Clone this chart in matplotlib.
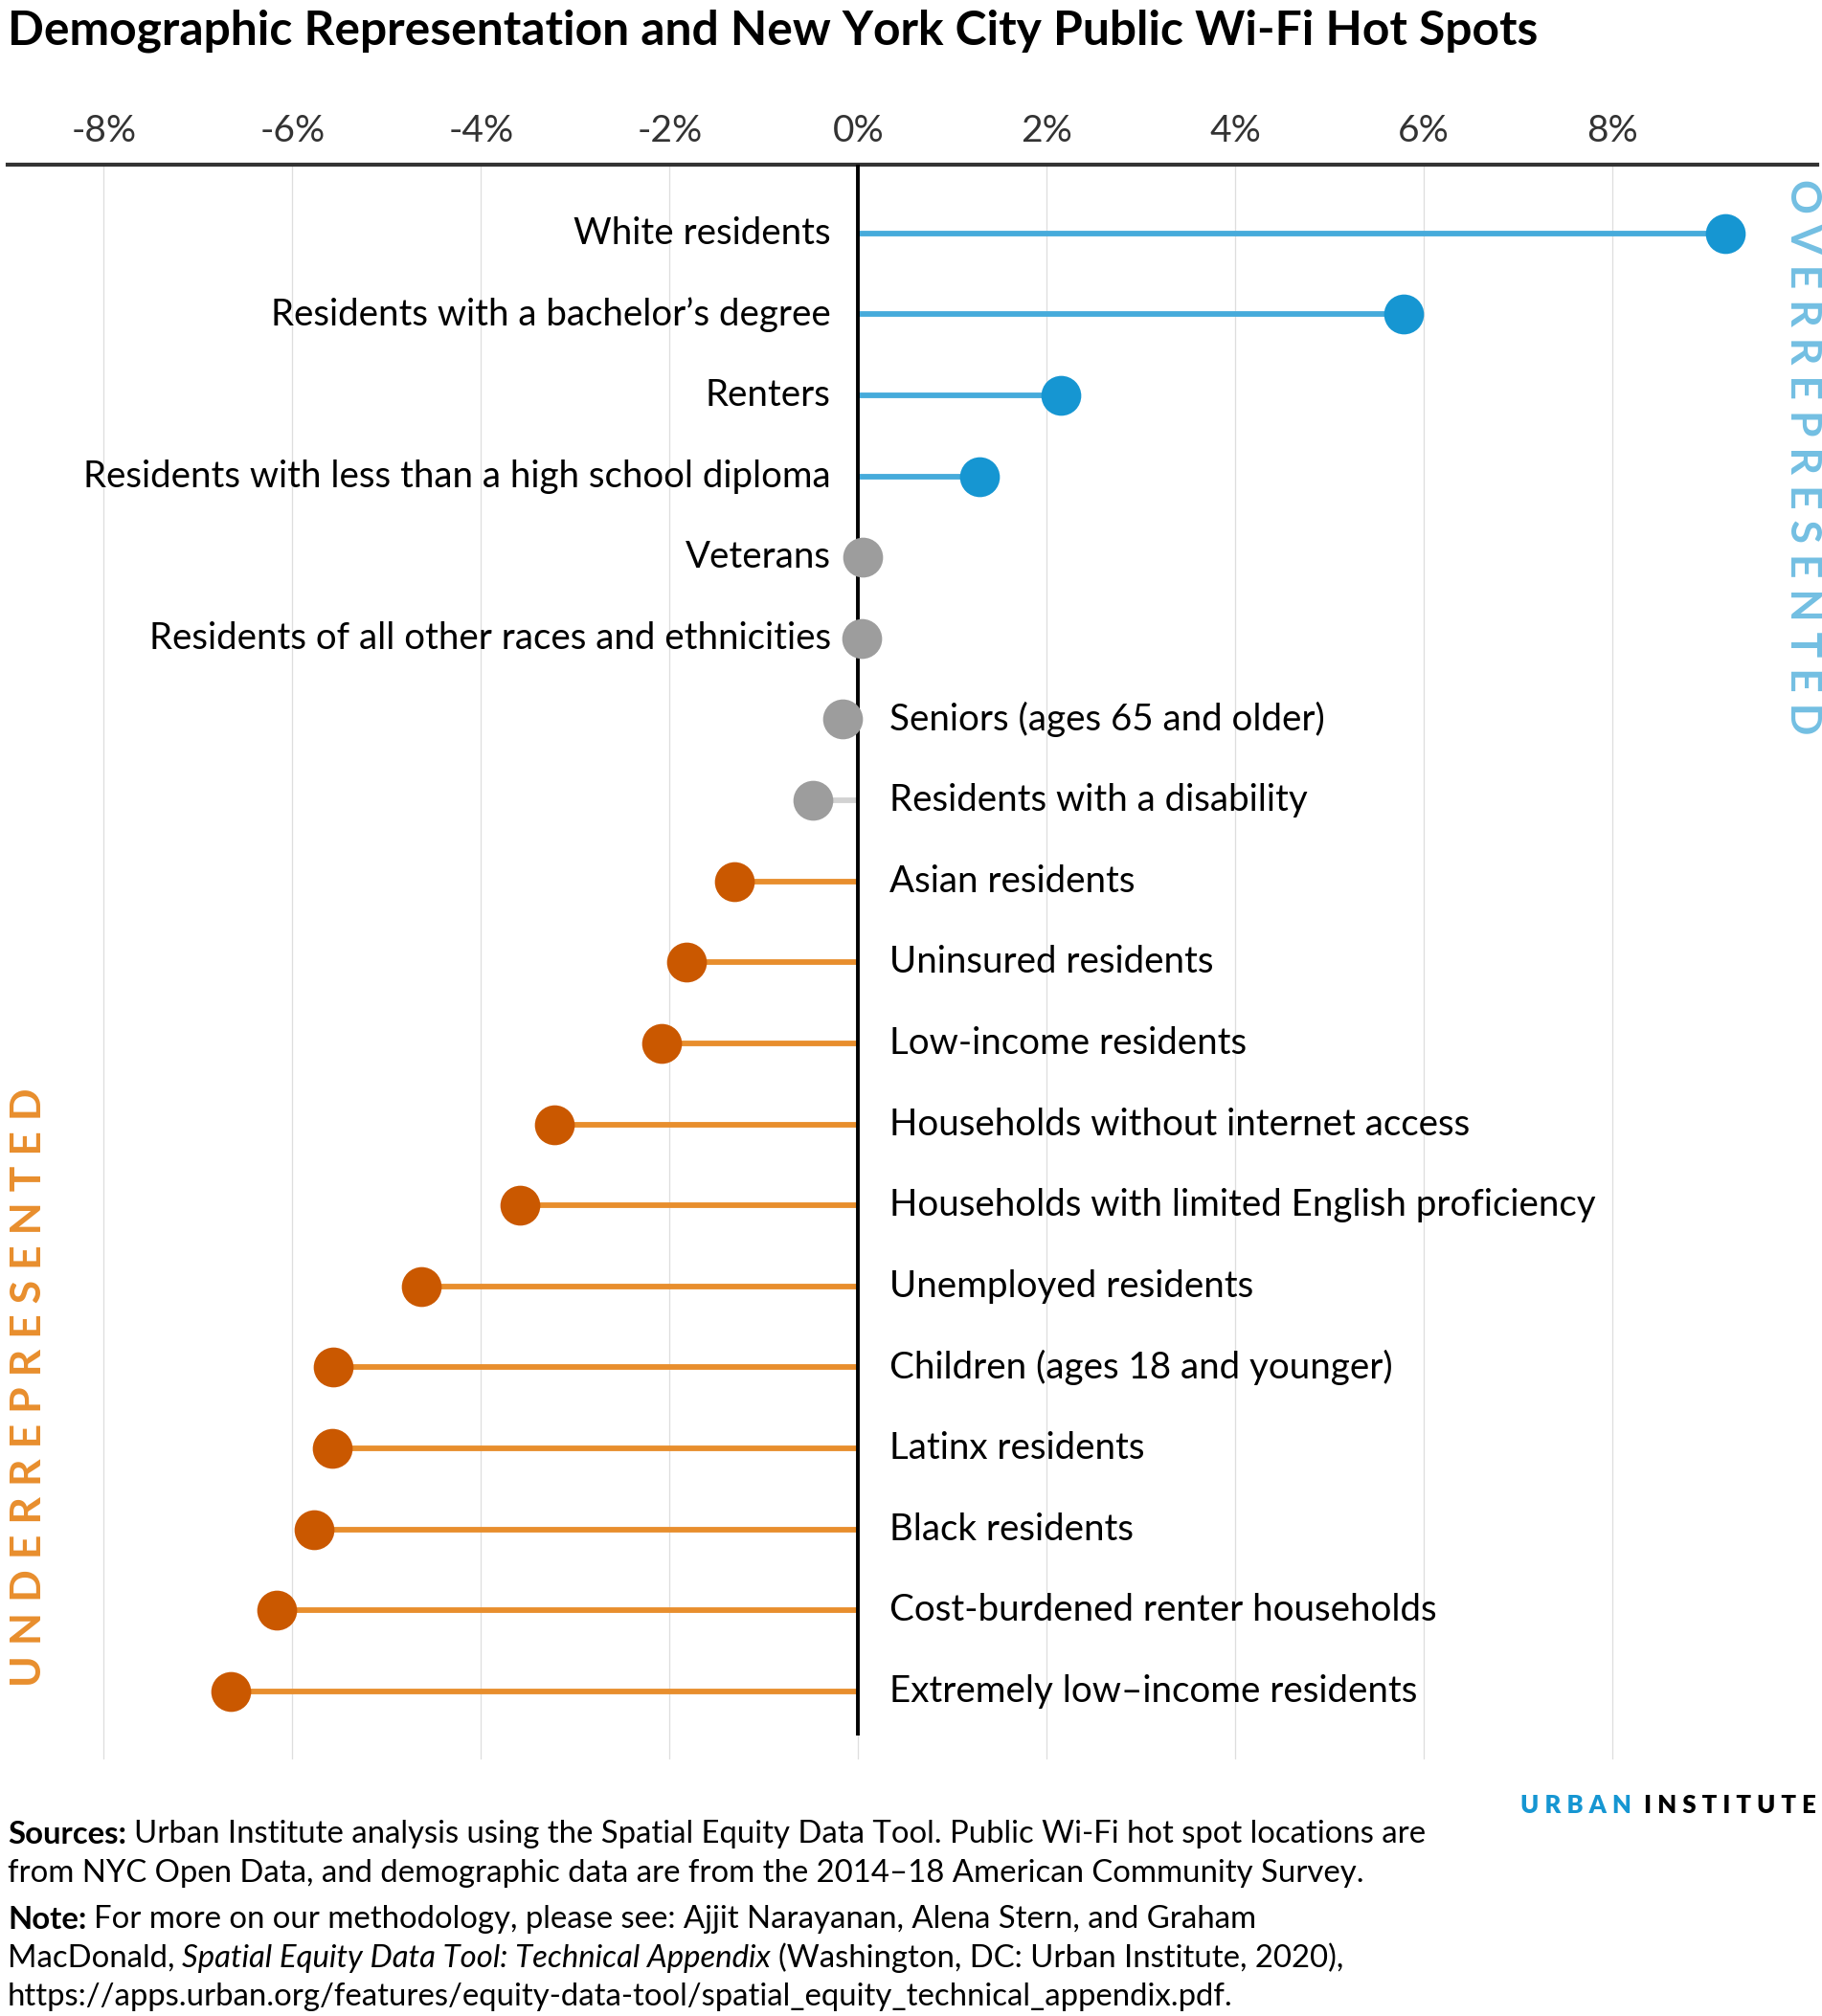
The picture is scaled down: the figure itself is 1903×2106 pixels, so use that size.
import matplotlib
matplotlib.use('Agg')
import matplotlib.pyplot as plt
import numpy as np

plt.rcParams['font.family'] = ['Lato', 'DejaVu Sans']

# Data
labels = ['White residents', 'Residents with a bachelor\u2019s degree', 'Renters',
          'Residents with less than a high school diploma', 'Veterans',
          'Residents of all other races and ethnicities', 'Seniors (ages 65 and older)',
          'Residents with a disability', 'Asian residents', 'Uninsured residents',
          'Low-income residents', 'Households without internet access',
          'Households with limited English proficiency', 'Unemployed residents',
          'Children (ages 18 and younger)', 'Latinx residents', 'Black residents',
          'Cost-burdened renter households', 'Extremely low\u2013income residents']
values = [9.20, 5.78, 2.15, 1.29, 0.05, 0.04, -0.17, -0.48, -1.31, -1.82, -2.09,
          -3.22, -3.59, -4.63, -5.57, -5.58, -5.77, -6.17, -6.65]
groups = ['over'] * 4 + ['neutral'] * 4 + ['under'] * 11
tick_values = [-8, -6, -4, -2, 0, 2, 4, 6, 8]
tick_labels = ['-8%', '-6%', '-4%', '-2%', '0%', '2%', '4%', '6%', '8%']

# colours per group: (stem, dot)
colors = {'over': ('#46abdb', '#1696d2'),
          'neutral': ('#d2d2d2', '#9d9d9d'),
          'under': ('#e88e2d', '#ca5800')}

fig = plt.figure(figsize=(19.03, 21.06), dpi=100)
ax = fig.add_axes([8 / 1903, 1 - 1838 / 2106, 1890 / 1903, (1838 - 172) / 2106])

y = np.arange(len(labels))
for yi, v, g in zip(y, values, groups):
    stem_c, dot_c = colors[g]
    ax.plot([0, v], [yi, yi], color=stem_c, lw=4.2, solid_capstyle='butt', zorder=2)
    ax.plot(v, yi, 'o', ms=30, color=dot_c, mec='none', zorder=4)
    if v >= 0:
        ax.text(-0.29, yi, labels[yi], ha='right', va='center', fontsize=27.6, color='black')
    else:
        ax.text(0.33, yi, labels[yi], ha='left', va='center', fontsize=27.7, color='black')

# zero line
ax.plot([0, 0], [-0.85, 18.54], color='black', lw=2.8, zorder=3, solid_capstyle='butt')

ax.set_xlim(-9.02, 10.17)
ax.set_ylim(18.84, -0.847)

ax.xaxis.tick_top()
ax.set_xticks(tick_values)
ax.set_xticklabels(tick_labels, fontsize=28, color='#333333')
ax.tick_params(axis='x', length=0, pad=12.5)
ax.set_yticks([])
ax.grid(axis='x', color='#dedede', lw=0.9, zorder=0)
ax.set_axisbelow(True)
for s in ['left', 'right', 'bottom']:
    ax.spines[s].set_visible(False)
ax.spines['top'].set_color('#333333')
ax.spines['top'].set_linewidth(3)

# title
fig.text(8 / 1903, 1 - 32 / 2106, 'Demographic Representation and New York City Public Wi-Fi Hot Spots',
         fontsize=35.8, fontweight='bold', ha='left', va='center', color='black')

# side labels
fig.text(1883 / 1903, 1 - 477 / 2106, ' '.join('OVERREPRESENTED'), rotation=-90,
         fontsize=32, fontweight='bold', color='#73bfe2', ha='center', va='center')
fig.text(30 / 1903, 1 - 1449 / 2106, ' '.join('UNDERREPRESENTED'), rotation=90,
         fontsize=32, fontweight='bold', color='#e88e2d', ha='center', va='center')

# logo
t_inst = fig.text(1897 / 1903, 1 - 1886 / 2106, ' '.join('INSTITUTE'), fontsize=18.5,
                  fontweight='heavy', color='black', ha='right', va='center')
fig.canvas.draw()
bb = t_inst.get_window_extent()
fig.text((bb.x0 - 13) / 1903, 1 - 1886 / 2106, ' '.join('URBAN'), fontsize=18.5,
         fontweight='heavy', color='#1696d2', ha='right', va='center')

# footer notes
fs = 23.7
def chain(prev, txt, **kw):
    return ax.annotate(txt, xy=(1, 0), xycoords=prev, xytext=(5.5, 0), textcoords='offset points',
                       ha='left', va='bottom', fontsize=fs, color='black', annotation_clip=False, **kw)

x0 = 8 / 1903
t = fig.text(x0, 1 - 1914 / 2106, 'Sources:', fontsize=fs, fontweight='bold', va='center_baseline')
chain(t, 'Urban Institute analysis using the Spatial Equity Data Tool. Public Wi-Fi hot spot locations are')
fig.text(x0, 1 - 1954 / 2106, 'from NYC Open Data, and demographic data are from the 2014\u201318 American Community Survey.',
         fontsize=fs, va='center_baseline')
t = fig.text(x0, 1 - 2003 / 2106, 'Note:', fontsize=fs, fontweight='bold', va='center_baseline')
chain(t, 'For more on our methodology, please see: Ajjit Narayanan, Alena Stern, and Graham')
t = fig.text(x0, 1 - 2043 / 2106, 'MacDonald,', fontsize=fs, va='center_baseline')
t = chain(t, 'Spatial Equity Data Tool: Technical Appendix', fontstyle='italic')
chain(t, '(Washington, DC: Urban Institute, 2020),')
fig.text(x0, 1 - 2083 / 2106, 'https://apps.urban.org/features/equity-data-tool/spatial_equity_technical_appendix.pdf.',
         fontsize=fs, va='center_baseline')

fig.savefig('out.png', dpi=100)
